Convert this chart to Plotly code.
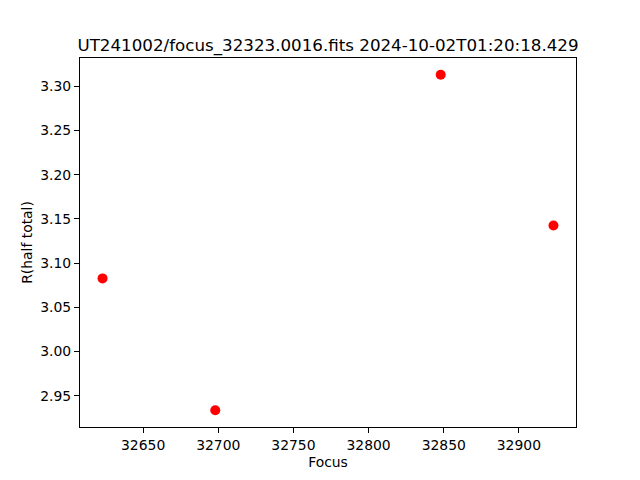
import plotly.graph_objects as go

focus = [32623, 32698, 32848, 32923]
r_half = [3.0827, 2.9335, 3.3132, 3.1426]
title = "UT241002/focus_32323.0016.fits 2024-10-02T01:20:18.429"

fig = go.Figure()
fig.add_trace(go.Scatter(x=focus, y=r_half, mode="markers",
                         marker=dict(color="red", size=10, line=dict(width=0))))

axis_common = dict(showgrid=False, zeroline=False, showline=True, linecolor="black",
                   linewidth=1, mirror=True, ticks="outside", ticklen=5, tickwidth=1,
                   tickcolor="black", automargin=False,
                   tickfont=dict(family="DejaVu Sans", size=13.9, color="black"))

xmin, xmax = min(focus), max(focus)
ymin, ymax = min(r_half), max(r_half)
dx = (xmax - xmin) * 0.05
dy = (ymax - ymin) * 0.05

fig.update_xaxes(range=[xmin - dx, xmax + dx], tickvals=[32650, 32700, 32750, 32800, 32850, 32900],
                 tickformat="d",
                 title=dict(text="Focus", font=dict(family="DejaVu Sans", size=13.9, color="black"), standoff=5),
                 **axis_common)
fig.update_yaxes(range=[ymin - dy, ymax + dy], tickvals=[2.95, 3.00, 3.05, 3.10, 3.15, 3.20, 3.25, 3.30],
                 tickformat=".2f",
                 title=dict(text="R(half total)", font=dict(family="DejaVu Sans", size=13.9, color="black"), standoff=4),
                 **axis_common)

fig.update_layout(
    width=632, height=472,
    margin=dict(l=72, r=64, t=50, b=53),
    paper_bgcolor="white", plot_bgcolor="white",
    showlegend=False,
    title=dict(text=title, x=0.5, xref="paper", xanchor="center", y=1, yref="paper", yanchor="bottom",
               pad=dict(b=7), font=dict(family="DejaVu Sans", size=16.7, color="black")),
)

fig.write_html("out.html")
